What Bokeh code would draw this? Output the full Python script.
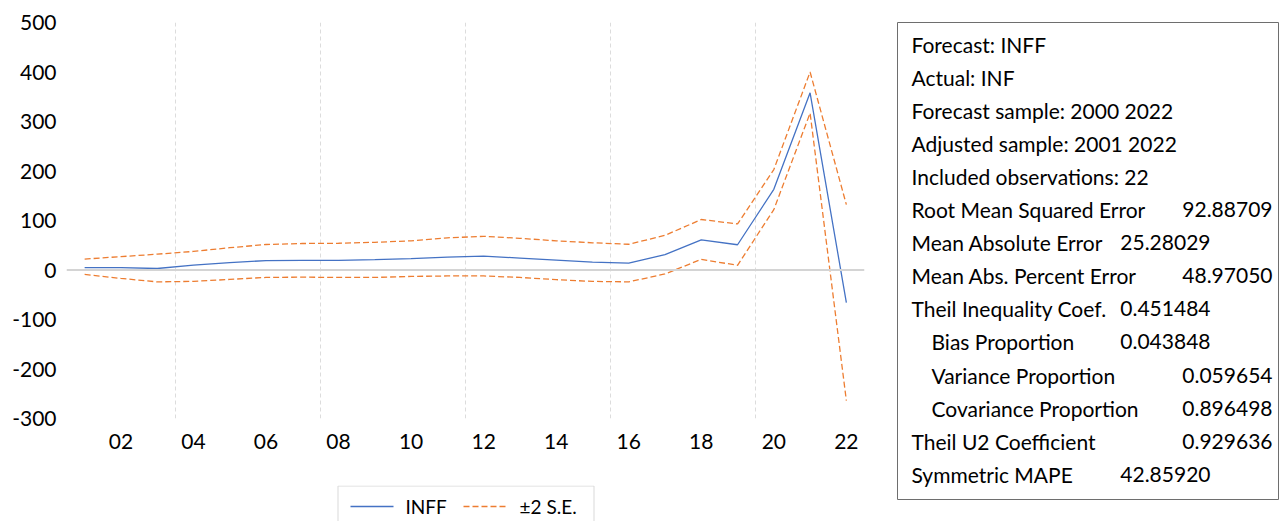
from bokeh.plotting import figure
from bokeh.models import Range1d, FixedTicker, Span, ColumnDataSource
from bokeh.layouts import row, column
from bokeh.core.properties import value
from bokeh.embed import file_html
from bokeh.resources import INLINE

# ---------------- data ----------------
years = list(range(2001, 2023))
inff = [5, 5, 3, 10, 15, 19, 19.5, 19.5, 21, 23, 26, 28, 24, 20, 16, 14, 31, 61, 51, 163, 358, -66]
upper = [22, 27, 32, 37.5, 45, 51.5, 53.5, 54, 56, 59, 65, 68, 64, 59, 55, 52, 70, 102, 93, 203, 400, 132]
lower = [-9, -17, -24, -23, -19, -15, -14.5, -15, -15, -13, -12, -12, -15, -19.5, -23, -24, -8, 21.5, 9.5, 122, 317, -264]

x_ticks = [2002, 2004, 2006, 2008, 2010, 2012, 2014, 2016, 2018, 2020, 2022]
x_tick_labels = ["02", "04", "06", "08", "10", "12", "14", "16", "18", "20", "22"]
y_ticks = [-300, -200, -100, 0, 100, 200, 300, 400, 500]
y_tick_labels = ["-300", "-200", "-100", "0", "100", "200", "300", "400", "500"]
grid_x = [2003.5, 2007.5, 2011.5, 2015.5, 2019.5]

series_names = ["INFF", "\u00b12 S.E."]

stat_labels = [
    "Forecast: INFF",
    "Actual: INF",
    "Forecast sample: 2000 2022",
    "Adjusted sample: 2001 2022",
    "Included observations: 22",
    "Root Mean Squared Error",
    "Mean Absolute Error",
    "Mean Abs. Percent Error",
    "Theil Inequality Coef.",
    "Bias Proportion",
    "Variance Proportion",
    "Covariance Proportion",
    "Theil U2 Coefficient",
    "Symmetric MAPE",
]
stat_values = ["", "", "", "", "", "92.88709", "25.28029", "48.97050", "0.451484",
               "0.043848", "0.059654", "0.896498", "0.929636", "42.85920"]

FONT = "Lato"
BLUE = "#4472c4"
ORANGE = "#ed7d31"

# ---------------- chart ----------------
p = figure(width=889, height=485, output_backend="svg", toolbar_location=None,
           x_range=Range1d(2000.5, 2022.5), y_range=Range1d(-300, 500),
           min_border_left=66, min_border_right=25, min_border_top=22, min_border_bottom=67)
p.outline_line_color = None
p.background_fill_color = "white"
p.border_fill_color = "white"

p.xaxis.ticker = FixedTicker(ticks=x_ticks)
p.xaxis.major_label_overrides = {t: l for t, l in zip(x_ticks, x_tick_labels)}
p.yaxis.ticker = FixedTicker(ticks=y_ticks)
p.yaxis.major_label_overrides = {t: l for t, l in zip(y_ticks, y_tick_labels)}
for ax in (p.xaxis, p.yaxis):
    ax.axis_line_color = None
    ax.major_tick_line_color = None
    ax.minor_tick_line_color = None
    ax.major_tick_out = 0
    ax.major_tick_in = 0
    ax.minor_tick_out = 0
    ax.minor_tick_in = 0
    ax.major_label_text_font = FONT
    ax.major_label_text_font_size = "21px"
    ax.major_label_text_color = "#000000"
p.yaxis.major_label_standoff = 10
p.xaxis.major_label_standoff = 15

p.ygrid.grid_line_color = None
p.xgrid.ticker = FixedTicker(ticks=grid_x)
p.xgrid.grid_line_color = "#dcdcdc"
p.xgrid.grid_line_dash = "4 3"
p.xgrid.grid_line_width = 1

p.add_layout(Span(location=0, dimension="width", line_color="#d4d4d4", line_width=2))

src = ColumnDataSource(dict(x=years, inff=inff, up=upper, lo=lower))
p.line("x", "inff", source=src, line_color=BLUE, line_width=1.3)
p.line("x", "up", source=src, line_color=ORANGE, line_width=1.3, line_dash="6 3")
p.line("x", "lo", source=src, line_color=ORANGE, line_width=1.3, line_dash="6 3")

# ---------------- legend strip (below chart; its frame aligns with the chart frame) ----------------
LEG_H = 36
leg = figure(width=889, height=LEG_H, output_backend="svg", toolbar_location=None,
             x_range=Range1d(66, 864), y_range=Range1d(LEG_H, 0),
             x_axis_location=None, y_axis_location=None,
             min_border_left=66, min_border_right=25, min_border_top=0, min_border_bottom=0)
leg.grid.visible = False
leg.outline_line_color = None
leg.border_fill_color = "white"
leg.quad(left=[337.5], right=[593.5], top=[0.5], bottom=[80], fill_color="white",
         line_color="#d9d9d9", line_width=1)
key_y = 21
leg.line(x=[350, 393], y=[key_y, key_y], line_color=BLUE, line_width=1.3)
leg.line(x=[463, 507], y=[key_y, key_y], line_color=ORANGE, line_width=1.3, line_dash="6 3")
leg.text(x=[405, 519], y=[key_y, key_y], text=series_names, text_font=value(FONT),
         text_font_size="19px", text_baseline="middle", text_align="left", text_color="#000000")

# ---------------- statistics box ----------------
BOX_W, BOX_H = 381, 477
q = figure(width=396, height=521, output_backend="svg", toolbar_location=None,
           x_range=Range1d(0, BOX_W), y_range=Range1d(BOX_H, 0),
           x_axis_location=None, y_axis_location=None,
           min_border_left=8, min_border_right=7, min_border_top=22, min_border_bottom=22)
q.grid.visible = False
q.outline_line_color = "#6e6e6e"
q.outline_line_width = 1
q.border_fill_color = "white"

indent = [0, 0, 0, 0, 0, 0, 0, 0, 0, 1, 1, 1, 0, 0]
value_col = [0, 0, 0, 0, 0, 1, 0, 1, 0, 0, 1, 1, 1, 0]
line_y = [21.5 + 33.1 * i for i in range(len(stat_labels))]
lab_x = [14 + 20 * k for k in indent]
val_x = [313 if c == 0 else 375 for c in value_col]

q.text(x=lab_x, y=line_y, text=stat_labels, text_font=value(FONT), text_font_size="21px",
       text_baseline="middle", text_align="left", text_color="#000000")
vy = [y for y, v in zip(line_y, stat_values) if v]
vx = [x for x, v in zip(val_x, stat_values) if v]
vt = [v for v in stat_values if v]
q.text(x=vx, y=vy, text=vt, text_font=value(FONT), text_font_size="21px",
       text_baseline="middle", text_align="right", text_color="#000000")

layout = row(column(p, leg), q)
open("out.html", "w").write(file_html(layout, INLINE))
